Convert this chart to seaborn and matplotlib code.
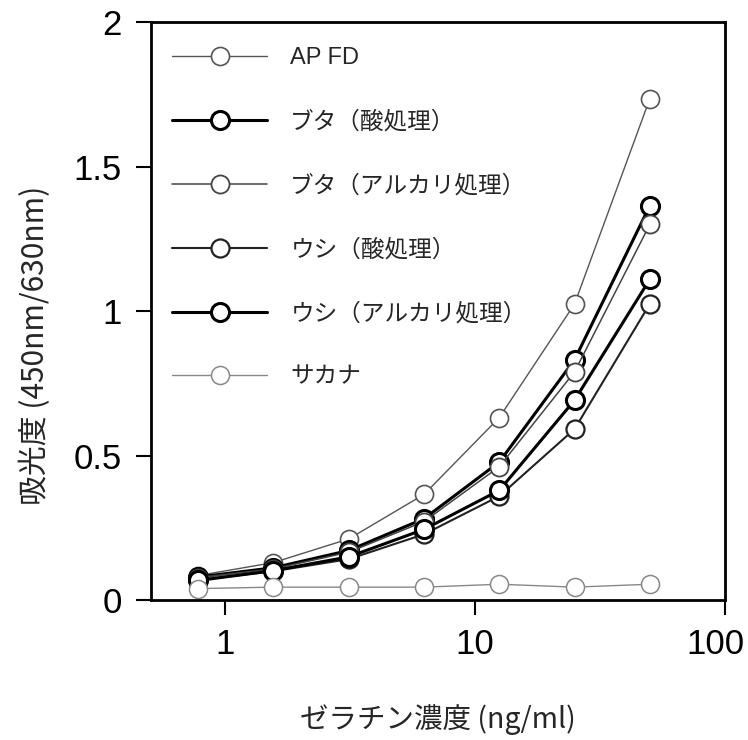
import numpy as np
import pandas as pd
import matplotlib
matplotlib.use("Agg")
import matplotlib.pyplot as plt
import matplotlib.transforms as mtransforms
import seaborn as sns
from matplotlib.ticker import FixedLocator, NullLocator

sns.set_style("ticks")
plt.rcParams['font.family'] = ['Liberation Sans', 'Noto Sans CJK JP', 'DejaVu Sans']

conc = [0.78, 1.56, 3.125, 6.25, 12.5, 25, 50]
series_names = ["AP FD", "ブタ（酸処理）", "ブタ（アルカリ処理）", "ウシ（酸処理）", "ウシ（アルカリ処理）", "サカナ"]
ap_fd      = [0.085, 0.130, 0.212, 0.366, 0.632, 1.025, 1.735]
buta_acid  = [0.080, 0.112, 0.172, 0.282, 0.478, 0.832, 1.365]
buta_alk   = [0.078, 0.108, 0.166, 0.272, 0.462, 0.790, 1.300]
ushi_acid  = [0.070, 0.100, 0.142, 0.228, 0.360, 0.592, 1.025]
ushi_alk   = [0.068, 0.102, 0.150, 0.245, 0.380, 0.692, 1.110]
sakana     = [0.040, 0.045, 0.045, 0.045, 0.055, 0.045, 0.055]
values = [ap_fd, buta_acid, buta_alk, ushi_acid, ushi_alk, sakana]
xticks = [1, 10, 100]
xtick_labels = ["1", "10", "100"]
yticks = [0, 0.5, 1, 1.5, 2]
ytick_labels = ["0", "0.5", "1", "1.5", "2"]

colors = ["#555555", "#000000", "#444444", "#222222", "#000000", "#888888"]
widths = [1.0, 2.2, 1.1, 1.5, 2.2, 1.0]
mew = [1.2, 2.2, 1.3, 1.6, 2.2, 1.1]

fig = plt.figure(figsize=(7.48, 7.40), dpi=100)
ax = fig.add_axes([0.2019, 0.189, 0.7674, 0.781])

for name, vals, c, lw, ew in zip(series_names, values, colors, widths, mew):
    df = pd.DataFrame({"x": conc, "y": vals})
    sns.lineplot(data=df, x="x", y="y", ax=ax, color=c, linewidth=lw,
                 marker="o", markersize=13, markerfacecolor="white",
                 markeredgecolor=c, markeredgewidth=ew, label=name)

ax.set_xscale("log")
ax.set_xlim(0.505, 100)
ax.set_ylim(0, 2)
ax.xaxis.set_major_locator(FixedLocator(xticks))
ax.xaxis.set_minor_locator(NullLocator())
ax.set_xticklabels(xtick_labels)
ax.set_yticks(yticks)
ax.set_yticklabels(ytick_labels)
ax.tick_params(axis="both", direction="out", length=11, width=1.5, labelsize=25, colors="black")
ax.tick_params(axis="x", pad=9)
ax.tick_params(axis="y", pad=10)
for s in ax.spines.values():
    s.set_linewidth(2)
    s.set_color("black")

# nudge the last x tick label left a little, as in the reference
last = ax.xaxis.get_major_ticks()[-1].label1
last.set_transform(last.get_transform() + mtransforms.ScaledTranslation(-10 / 100, 0, fig.dpi_scale_trans))

cjk = ['Noto Sans CJK JP', 'DejaVu Sans']
ax.set_xlabel("ゼラチン濃度 (ng/ml)", fontsize=20.5, family=cjk, labelpad=31)
ax.set_ylabel("吸光度 (450nm/630nm)", fontsize=21.5, family=cjk)
ax.yaxis.set_label_coords(-0.174, 0.441)

leg = ax.legend(loc="upper left", bbox_to_anchor=(-0.004, 0.998), frameon=False,
                handlelength=4.0, handletextpad=1.0,
                labelspacing=1.75, borderaxespad=0.6,
                prop={'family': ['Liberation Sans', 'Noto Sans CJK JP'], 'size': 17})

fig.savefig("out.png", dpi=100)
